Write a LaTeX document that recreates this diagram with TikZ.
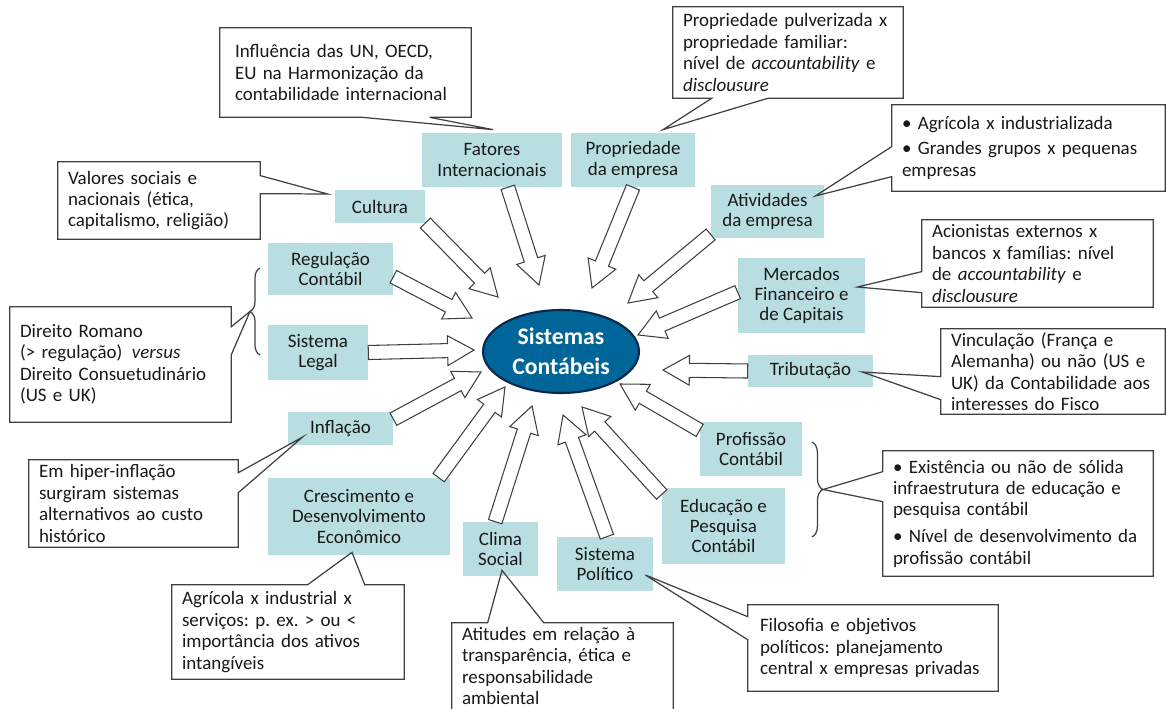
\documentclass[tikz,border=0pt]{standalone}
\usepackage{fontspec}
\setmainfont{Carlito}
\frenchspacing
\usetikzlibrary{calc,shapes.geometric,decorations.pathreplacing}

\definecolor{azulcaixa}{RGB}{185,222,226}
\definecolor{azuloval}{RGB}{0,101,153}
\definecolor{bordaoval}{RGB}{10,40,75}

% seta larga e vazada de #1 ate #2
\newcommand{\fatarrow}[2]{%
  \draw[seta] let \p1=($(#2)!15pt!(#1)$) in
    ($(#1)!4pt!90:(#2)$) -- ($(\p1)!4pt!90:(#2)$) -- ($(\p1)!8.5pt!90:(#2)$) -- (#2)
    -- ($(\p1)!8.5pt!-90:(#2)$) -- ($(\p1)!4pt!-90:(#2)$) -- ($(#1)!4pt!-90:(#2)$) -- cycle;}

\begin{document}
\begin{tikzpicture}[x=0.02cm, y=-0.02cm,
  caixa/.style={fill=azulcaixa, align=center, inner sep=0pt, text=black!90, font=\fontsize{10.8}{11.6}\selectfont},
  nota/.style={align=left, inner sep=0pt, text=black!90, font=\fontsize{10.8}{12.2}\selectfont},
  balao/.style={draw=black!75, line width=0.7pt, line join=miter},
  seta/.style={draw=black!75, fill=white, line width=0.6pt, line join=miter},
  chave/.style={draw=black!75, line width=0.7pt, decorate, decoration={brace, amplitude=#1}}]
\useasboundingbox (0,0) rectangle (1166,709);

\node[ellipse, fill=azuloval, draw=bordaoval, line width=1.2pt, minimum width=3.12cm, minimum height=1.66cm,
  inner sep=0pt, align=center, text=white, font=\fontsize{13.5}{17}\selectfont\bfseries] (sc) at (561,351.5) {Sistemas\\Contábeis};

\node[caixa, minimum width=2.8cm, minimum height=1.08cm] (fat) at (492,160) {Fatores\\Internacionais};
\node[caixa, minimum width=2.48cm, minimum height=1.08cm] (prop) at (633,160) {Propriedade\\da empresa};
\node[caixa, minimum width=2.26cm, minimum height=1.06cm] (ativ) at (767.5,211.5) {Atividades\\da empresa};
\node[caixa, minimum width=2.54cm, minimum height=1.5cm] (merc) at (801.5,295.5) {Mercados\\Financeiro e\\de Capitais};
\node[caixa, minimum width=2.5cm, minimum height=0.64cm] (trib) at (810.5,371) {Tributação};
\node[caixa, minimum width=2.04cm, minimum height=1.08cm] (prof) at (751,449) {Profissão\\Contábil};
\node[caixa, minimum width=2.46cm, minimum height=1.52cm] (edu) at (723.5,526) {Educação e\\Pesquisa\\Contábil};
\node[caixa, minimum width=1.92cm, minimum height=1.08cm] (pol) at (605,564) {Sistema\\Político};
\node[caixa, minimum width=1.5cm, minimum height=1.08cm] (clima) at (500.5,549) {Clima\\Social};
\node[caixa, minimum width=3.64cm, minimum height=1.54cm] (cres) at (359,516.5) {Crescimento e\\Desenvolvimento\\Econômico};
\node[caixa, minimum width=2.1cm, minimum height=0.66cm] (infl) at (340.5,428.5) {Inflação};
\node[caixa, minimum width=2cm, minimum height=1.1cm] (leg) at (318,352.5) {Sistema\\Legal};
\node[caixa, minimum width=2.5cm, minimum height=1.04cm] (reg) at (330.5,269) {Regulação\\Contábil};
\node[caixa, minimum width=1.8cm, minimum height=0.66cm] (cult) at (380,206.5) {Cultura};

% pontas das setas
\coordinate (t-fat) at ($(sc)+(-22,-66.5)$);
\coordinate (t-prop) at ($(sc)+(31,-63.5)$);
\coordinate (t-ativ) at ($(sc)+(67,-48.5)$);
\coordinate (t-merc) at ($(sc)+(77,-16.5)$);
\coordinate (t-trib) at ($(sc)+(102,18.5)$);
\coordinate (t-prof) at ($(sc)+(59,32.5)$);
\coordinate (t-edu) at ($(sc)+(21,55.5)$);
\coordinate (t-pol) at ($(sc)+(2,63.5)$);
\coordinate (t-clima) at ($(sc)+(-29,54.5)$);
\coordinate (t-cres) at ($(sc)+(-56,35.5)$);
\coordinate (t-infl) at ($(sc)+(-80,20.5)$);
\coordinate (t-leg) at ($(sc)+(-87,-1.5)$);
\coordinate (t-reg) at ($(sc)+(-89,-33.5)$);
\coordinate (t-cult) at ($(sc)+(-63,-54.5)$);

\fatarrow{fat.-60}{t-fat}
\fatarrow{prop.south}{t-prop}
\fatarrow{ativ.202}{t-ativ}
\fatarrow{merc.177}{t-merc}
\fatarrow{trib.west}{t-trib}
\fatarrow{prof.160}{t-prof}
\fatarrow{edu.153}{t-edu}
\fatarrow{pol.86}{t-pol}
\fatarrow{clima.101}{t-clima}
\fatarrow{cres.26}{t-cres}
\fatarrow{infl.10}{t-infl}
\fatarrow{leg.east}{t-leg}
\fatarrow{reg.-7}{t-reg}
\fatarrow{cult.-20}{t-cult}

% chaves
\draw[chave=5.7pt] (260,355) -- (260,268);
\coordinate (brl) at (250,311.5);
\draw[chave=6.2pt] (812,442) -- (812,537);
\coordinate (brr) at (823,489.5);

% textos dos baloes
\node[nota, text width=4.42cm, minimum width=5.02cm, minimum height=1.78cm] (n-intl) at (345.5,72.5) {Influência das UN, OECD,\\EU na Harmonização da\\contabilidade internacional};
\node[nota, text width=4.2cm, minimum width=4.6cm, minimum height=1.82cm] (n-prop) at (788,52.5) {Propriedade pulverizada x\\propriedade familiar:\\nível de \textit{accountability} e\\\textit{disclousure}};
\node[nota, text width=5.06cm, minimum width=5.46cm, minimum height=1.72cm] (n-ativ) at (1028.5,148) {\textbullet\ Agrícola x industrializada\\[2pt]\textbullet\ Grandes grupos x pequenas\\empresas};
\node[nota, text width=4.22cm, minimum width=4.62cm, minimum height=1.74cm] (n-merc) at (1037.5,263.5) {Acionistas externos x\\bancos x famílias: nível\\de \textit{accountability} e\\\textit{disclousure}};
\node[nota, text width=4.08cm, minimum width=4.48cm, minimum height=1.7cm] (n-trib) at (1053,371.5) {Vinculação (França e\\Alemanha) ou não (US e\\UK) da Contabilidade aos\\interesses do Fisco};
\node[nota, text width=5cm, minimum width=5.4cm, minimum height=2.5cm] (n-prof) at (1018,513.5) {\textbullet\ Existência ou não de sólida\\infraestrutura de educação e\\pesquisa contábil\\[3pt]\textbullet\ Nível de desenvolvimento da\\profissão contábil};
\node[nota, text width=4.52cm, minimum width=5cm, minimum height=1.72cm] (n-pol) at (873,648) {Filosofia e objetivos\\políticos: planejamento\\central x empresas privadas};
\node[nota, text width=4.02cm, minimum width=4.42cm, minimum height=1.72cm] (n-clima) at (562.5,666) {Atitudes em relação à\\transparência, ética e\\responsabilidade\\ambiental};
\node[nota, text width=4.24cm, minimum width=4.64cm, minimum height=1.88cm] (n-cres) at (288,632) {Agrícola x industrial x\\serviços: p. ex. > ou <\\importância dos ativos\\intangíveis};
\node[nota, text width=3.78cm, minimum width=4.18cm, minimum height=1.74cm] (n-infl) at (133.5,503.5) {Em hiper-inflação\\surgiram sistemas\\alternativos ao custo\\histórico};
\node[nota, text width=4.02cm, minimum width=4.42cm, minimum height=2.3cm] (n-leg) at (120.5,364.5) {Direito Romano\\(> regulação)\enspace\textit{versus}\\Direito Consuetudinário\\(US e UK)};
\node[nota, text width=3.64cm, minimum width=4.04cm, minimum height=1.54cm] (n-cult) at (159,200.5) {Valores sociais e\\nacionais (ética,\\capitalismo, religião)};

% contornos dos baloes
\draw[balao] (n-intl.north west) -- (n-intl.north east) -- (n-intl.south east)
  -- ($(n-intl.south west)+(210,0)$) -- ($(fat.north)+(1,-3)$) -- ($(n-intl.south west)+(143,0)$) -- (n-intl.south west) -- cycle;
\draw[balao] (n-prop.north west) -- (n-prop.north east) -- (n-prop.south east)
  -- ($(n-prop.south west)+(95,0)$) -- ($(prop.north)+(30,-3)$) -- ($(n-prop.south west)+(39,0)$) -- (n-prop.south west) -- cycle;
\draw[balao] (n-ativ.north west) -- (n-ativ.north east) -- (n-ativ.south east) -- (n-ativ.south west)
  -- ($(n-ativ.north west)+(0,72)$) -- ($(ativ.east)+(-9,-15.5)$) -- ($(n-ativ.north west)+(0,42)$) -- cycle;
\draw[balao] (n-merc.north west) -- (n-merc.north east) -- (n-merc.south east) -- (n-merc.south west)
  -- ($(n-merc.north west)+(0,73)$) -- ($(merc.east)+(-8,-8.5)$) -- ($(n-merc.north west)+(0,52)$) -- cycle;
\draw[balao] (n-trib.north west) -- (n-trib.north east) -- (n-trib.south east) -- (n-trib.south west)
  -- ($(n-trib.north west)+(0,71)$) -- ($(trib.east)+(-11,1)$) -- ($(n-trib.north west)+(0,48)$) -- cycle;
\draw[balao] (n-prof.north west) -- (n-prof.north east) -- (n-prof.south east) -- (n-prof.south west)
  -- ($(n-prof.north west)+(0,51)$) -- (brr) -- ($(n-prof.north west)+(0,21)$) -- cycle;
\draw[balao] (n-pol.north west) -- (n-pol.north east) -- (n-pol.south east) -- (n-pol.south west)
  -- ($(n-pol.north west)+(0,35)$) -- ($(pol.east)+(-8,11)$) -- ($(n-pol.north west)+(0,12)$) -- cycle;
\draw[balao] (n-clima.south west) -- (n-clima.north west) -- ($(n-clima.north west)+(36,0)$)
  -- ($(clima.south)+(1.5,-6)$) -- ($(n-clima.north west)+(92,0)$) -- (n-clima.north east) -- (n-clima.south east);
\draw[balao] (n-cres.north west) -- ($(n-cres.north west)+(136,0)$) -- ($(cres.south)+(-7,-3)$)
  -- ($(n-cres.north west)+(193,0)$) -- (n-cres.north east) -- (n-cres.south east) -- (n-cres.south west) -- cycle;
\draw[balao] (n-infl.north west) -- (n-infl.north east) -- ($(n-infl.north east)+(0,13)$)
  -- ($(infl.west)+(15,8.5)$) -- ($(n-infl.north east)+(0,33)$) -- (n-infl.south east) -- (n-infl.south west) -- cycle;
\draw[balao] (n-leg.north west) -- (n-leg.north east) -- ($(n-leg.north east)+(0,20)$)
  -- (brl) -- ($(n-leg.north east)+(0,48)$) -- (n-leg.south east) -- (n-leg.south west) -- cycle;
\draw[balao] (n-cult.north west) -- (n-cult.north east) -- ($(n-cult.north east)+(0,14)$)
  -- ($(cult.west)+(-7,-12.5)$) -- ($(n-cult.north east)+(0,32)$) -- (n-cult.south east) -- (n-cult.south west) -- cycle;
\end{tikzpicture}
\end{document}
